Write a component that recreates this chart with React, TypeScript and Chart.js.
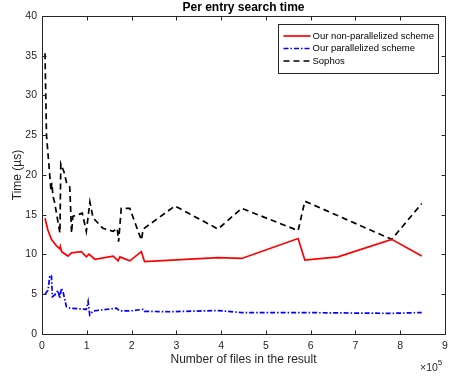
import React, { useEffect, useRef } from "react";
import { Chart, registerables } from "chart.js";

Chart.register(...registerables);

// ---- data (x = number of files, y = time in µs) ----
const SERIES_LABELS = ["Our non-parallelized scheme", "Our parallelized scheme", "Sophos"];
const X_TICK_VALUES = [0, 100000, 200000, 300000, 400000, 500000, 600000, 700000, 800000, 900000];
const Y_TICK_VALUES = [0, 5, 10, 15, 20, 25, 30, 35, 40];

const nonParX = [6700, 13000, 21000, 32000, 40000, 41000, 44000, 58000, 66000, 88000, 99000, 105000, 118000, 159000, 170000, 174000, 196000, 222000, 229000, 393000, 446000, 572000, 587000, 661000, 781000, 848000];
const nonParY = [14.55, 13.1, 11.9, 11.1, 10.7, 11.0, 10.35, 9.8, 10.2, 10.35, 9.7, 10.05, 9.4, 9.8, 9.2, 9.7, 9.2, 10.35, 9.1, 9.6, 9.5, 12.0, 9.3, 9.7, 11.9, 9.8];

const parX = [6700, 13400, 17200, 21000, 23200, 28400, 35700, 39600, 43400, 47000, 54500, 62000, 99000, 103000, 106600, 114000, 166000, 174000, 196000, 226000, 229000, 285000, 393000, 446000, 572000, 661000, 781000, 848000];
const parY = [5.0, 5.5, 7.2, 7.4, 4.7, 4.9, 5.5, 4.5, 5.75, 5.3, 3.45, 3.25, 3.1, 4.1, 2.4, 2.9, 3.25, 2.9, 2.9, 3.1, 2.85, 2.8, 2.95, 2.7, 2.7, 2.65, 2.6, 2.7];

const sophosX = [6700, 10000, 17000, 20000, 22000, 24500, 28000, 40000, 42000, 49000, 55000, 62000, 66000, 69000, 80000, 90000, 99000, 107000, 114000, 136000, 159000, 168000, 171000, 177000, 196000, 222000, 226000, 297000, 393000, 446000, 572000, 587000, 781000, 848000];
const sophosY = [35.3, 25.0, 20.2, 18.0, 19.0, 17.3, 16.6, 12.7, 21.4, 20.4, 19.0, 18.5, 12.7, 14.8, 15.0, 15.2, 12.9, 16.6, 14.6, 13.3, 12.9, 13.3, 11.6, 15.8, 15.8, 11.8, 13.2, 16.1, 13.2, 15.8, 13.0, 16.7, 11.9, 16.4];

const FONT = "'Liberation Sans', Arial, Helvetica, sans-serif";
const AXIS_COLOR = "#262626";

const toPoints = (xs: number[], ys: number[]) => xs.map((x, i) => ({ x, y: ys[i] }));

const framePlugin = {
  id: "matlabFrame",
  afterDatasetsDraw(chart: any) {
    const { ctx, chartArea, scales } = chart;
    const { left, right, top, bottom } = chartArea;
    ctx.save();
    ctx.strokeStyle = AXIS_COLOR;
    ctx.lineWidth = 1;
    ctx.setLineDash([]);
    const l = Math.round(left) + 0.5;
    const r = Math.round(right) + 0.5;
    const t = Math.round(top) + 0.5;
    const b = Math.round(bottom) + 0.5;
    ctx.beginPath();
    ctx.rect(l, t, r - l, b - t);
    const L = 4;
    scales.x.ticks.forEach((tk: any) => {
      const px = Math.round(scales.x.getPixelForValue(tk.value)) + 0.5;
      ctx.moveTo(px, b);
      ctx.lineTo(px, b - L);
      ctx.moveTo(px, t);
      ctx.lineTo(px, t + L);
    });
    scales.y.ticks.forEach((tk: any) => {
      const py = Math.round(scales.y.getPixelForValue(tk.value)) + 0.5;
      ctx.moveTo(l, py);
      ctx.lineTo(l + L, py);
      ctx.moveTo(r, py);
      ctx.lineTo(r - L, py);
    });
    ctx.stroke();

    // exponent label
    ctx.fillStyle = AXIS_COLOR;
    ctx.textBaseline = "alphabetic";
    ctx.textAlign = "left";
    ctx.font = `10.5px ${FONT}`;
    const ex = right - 25;
    const ey = bottom + 37;
    ctx.fillText("\u00d710", ex, ey);
    const w = ctx.measureText("\u00d710").width;
    ctx.font = `8px ${FONT}`;
    ctx.fillText("5", ex + w, ey - 6);
    ctx.restore();
  },
};

const legendPlugin = {
  id: "innerLegend",
  afterDatasetsDraw(chart: any) {
    const { ctx, chartArea } = chart;
    const boxW = 160;
    const boxH = 49;
    const x0 = Math.round(chartArea.right - 7 - boxW) + 0.5;
    const y0 = Math.round(chartArea.top + 8) + 0.5;
    ctx.save();
    ctx.setLineDash([]);
    ctx.fillStyle = "#ffffff";
    ctx.fillRect(x0, y0, boxW, boxH);
    ctx.strokeStyle = AXIS_COLOR;
    ctx.lineWidth = 1;
    ctx.strokeRect(x0, y0, boxW, boxH);
    ctx.font = `9.5px ${FONT}`;
    ctx.textBaseline = "middle";
    ctx.textAlign = "left";
    chart.data.datasets.forEach((ds: any, i: number) => {
      const cy = y0 + 11.5 + i * 12.5;
      ctx.save();
      ctx.strokeStyle = ds.borderColor;
      ctx.lineWidth = ds.borderWidth;
      ctx.setLineDash(ds.borderDash || []);
      ctx.beginPath();
      ctx.moveTo(x0 + 5, cy);
      ctx.lineTo(x0 + 32, cy);
      ctx.stroke();
      ctx.restore();
      ctx.fillStyle = "#000000";
      ctx.fillText(ds.label, x0 + 34, cy);
    });
    ctx.restore();
  },
};

export default function App() {
  const ref = useRef<HTMLCanvasElement | null>(null);

  useEffect(() => {
    if (!ref.current) return;
    const chart = new Chart(ref.current, {
      type: "line",
      data: {
        datasets: [
          {
            label: SERIES_LABELS[0],
            data: toPoints(nonParX, nonParY),
            borderColor: "#ff0000",
            borderWidth: 1.7,
            borderDash: [],
            pointRadius: 0,
            tension: 0,
            fill: false,
          },
          {
            label: SERIES_LABELS[1],
            data: toPoints(parX, parY),
            borderColor: "#0000ff",
            borderWidth: 1.7,
            borderDash: [5, 2, 1.5, 2],
            pointRadius: 0,
            tension: 0,
            fill: false,
          },
          {
            label: SERIES_LABELS[2],
            data: toPoints(sophosX, sophosY),
            borderColor: "#000000",
            borderWidth: 1.7,
            borderDash: [6, 4],
            pointRadius: 0,
            tension: 0,
            fill: false,
          },
        ],
      },
      options: {
        animation: false,
        responsive: false,
        devicePixelRatio: 1,
        layout: { padding: { left: 0, right: 0, top: 0, bottom: 0 } },
        plugins: {
          legend: { display: false },
          tooltip: { enabled: false },
          title: {
            display: true,
            text: "Per entry search time",
            color: "#000000",
            fullSize: false,
            font: { family: FONT, size: 12, weight: "bold" },
            padding: { top: 0.5, bottom: 1 },
          },
        },
        scales: {
          x: {
            type: "linear",
            min: 0,
            max: 900000,
            afterBuildTicks: (s: any) => {
              s.ticks = X_TICK_VALUES.map((v) => ({ value: v }));
            },
            ticks: {
              callback: (v: any) => String(Number(v) / 100000),
              color: AXIS_COLOR,
              font: { family: FONT, size: 10.5 },
              padding: 6,
              maxRotation: 0,
              autoSkip: false,
            },
            grid: { display: false, drawTicks: false },
            border: { display: false },
            title: {
              display: true,
              text: "Number of files in the result",
              color: AXIS_COLOR,
              font: { family: FONT, size: 12 },
              padding: { top: 0, bottom: 9 },
            },
            afterFit: (s: any) => {
              s.height = 42;
              s.paddingRight = 5;
            },
          },
          y: {
            type: "linear",
            min: 0,
            max: 40,
            afterBuildTicks: (s: any) => {
              s.ticks = Y_TICK_VALUES.map((v) => ({ value: v }));
            },
            ticks: {
              color: AXIS_COLOR,
              font: { family: FONT, size: 10.5 },
              padding: 5,
              autoSkip: false,
            },
            grid: { display: false, drawTicks: false },
            border: { display: false },
            title: {
              display: true,
              text: "Time (\u00b5s)",
              color: AXIS_COLOR,
              font: { family: FONT, size: 12 },
              padding: { top: 10, bottom: 0 },
            },
            afterFit: (s: any) => {
              s.width = 42;
            },
          },
        },
      },
      plugins: [framePlugin, legendPlugin],
    });
    return () => chart.destroy();
  }, []);

  return (
    <div style={{ position: "fixed", left: 0, top: 0, width: 450, height: 376, background: "#fff" }}>
      <canvas ref={ref} width={450} height={376} style={{ display: "block" }} />
    </div>
  );
}
